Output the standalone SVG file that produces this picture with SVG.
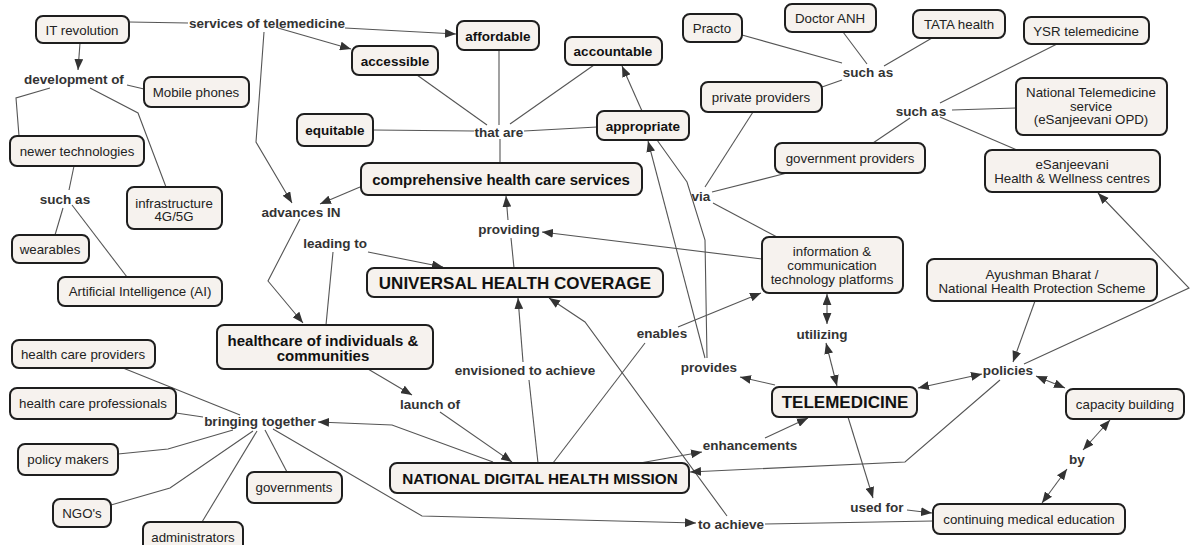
<svg xmlns="http://www.w3.org/2000/svg" width="1191" height="545" viewBox="0 0 1191 545">
<defs>
<marker id="a" viewBox="0 0 10 8" refX="10" refY="4" markerWidth="11" markerHeight="9" markerUnits="userSpaceOnUse" orient="auto-start-reverse"><path d="M0,0L10,4L0,8z" fill="#333"/></marker>
<style>
.box{fill:#f6f2ee;stroke:#1e1e1e;stroke-width:2}
.t{font-family:"Liberation Sans",Arial,sans-serif;font-size:13.3px;fill:#222;text-anchor:middle;dominant-baseline:central}
.b{font-weight:bold;font-size:13.5px;fill:#111}
.big{font-weight:bold;font-size:17px;fill:#111}
.mid{font-weight:bold;font-size:15px;fill:#111}
.l{font-family:"Liberation Sans",Arial,sans-serif;font-size:13.5px;font-weight:bold;fill:#333;text-anchor:middle;dominant-baseline:central}
.c{fill:none;stroke:#555;stroke-width:1.1}
.ar{marker-end:url(#a)}
.ar2{marker-start:url(#a);marker-end:url(#a)}
</style>
</defs>
<g id="connectors">
<path class="c ar" d="M80,43L78,70"/>
<path class="c" d="M129,22L188,23"/>
<path class="c ar" d="M345,28L456,34"/>
<path class="c ar" d="M278,28L351,49"/>
<path class="c ar" d="M264,32L256,142L292,203"/>
<path class="c" d="M50,88L16,98L19,136"/>
<path class="c" d="M127,85L144,89"/>
<path class="c" d="M90,88L138,113L166,187"/>
<path class="c" d="M74,166L69,190"/>
<path class="c" d="M63,208L55,235"/>
<path class="c" d="M72,205L127,277"/>
<path class="c ar" d="M300,219L268,281L303,323"/>
<path class="c ar" d="M360,187L320,204"/>
<path class="c" d="M326,325L333,252"/>
<path class="c ar" d="M368,252L443,267"/>
<path class="c" d="M514,268L511,238"/>
<path class="c ar" d="M508,220L506,196"/>
<path class="c ar" d="M762,259L542,232"/>
<path class="c" d="M500,163L500,139"/>
<path class="c" d="M487,125L417,75"/>
<path class="c" d="M499,125L499,50"/>
<path class="c" d="M510,124L594,65"/>
<path class="c" d="M373,130L474,131"/>
<path class="c" d="M524,131L597,127"/>
<path class="c ar" d="M642,111L622,66"/>
<path class="c ar" d="M705,358L648,141"/>
<path class="c" d="M657,140L687,182L705,240L707,358"/>
<path class="c ar" d="M727,516L585,322L549,298"/>
<path class="c" d="M553,463L645,343"/>
<path class="c ar" d="M678,327L761,293"/>
<path class="c" d="M777,237L713,203"/>
<path class="c" d="M705,187L753,112"/>
<path class="c" d="M712,192L787,173"/>
<path class="c" d="M822,87L842,80"/>
<path class="c" d="M742,35L842,63"/>
<path class="c" d="M843,32L867,64"/>
<path class="c" d="M932,38L884,66"/>
<path class="c" d="M873,143L910,118"/>
<path class="c" d="M940,103L1057,44"/>
<path class="c" d="M952,110L1016,108"/>
<path class="c" d="M940,117L1017,150"/>
<path class="c ar" d="M1024,364L1189,288L1098,193"/>
<path class="c ar" d="M1035,301L1013,362"/>
<path class="c ar2" d="M918,388L982,374"/>
<path class="c ar2" d="M1036,376L1065,388"/>
<path class="c ar2" d="M1110,420L1083,450"/>
<path class="c ar2" d="M1067,469L1042,503"/>
<path class="c ar" d="M907,510L932,513"/>
<path class="c" d="M765,524L933,521"/>
<path class="c ar" d="M848,417L873,498"/>
<path class="c ar" d="M1000,380L905,462L690,472"/>
<path class="c ar" d="M765,438L808,418"/>
<path class="c ar" d="M640,463L702,452"/>
<path class="c ar2" d="M827,294L827,324"/>
<path class="c ar2" d="M826,343L837,386"/>
<path class="c" d="M538,463L529,380"/>
<path class="c ar" d="M523,362L518,298"/>
<path class="c ar" d="M368,369L412,395"/>
<path class="c ar" d="M440,412L512,462"/>
<path class="c ar" d="M493,462L392,425L318,422"/>
<path class="c ar" d="M273,429L422,516L696,523"/>
<path class="c ar" d="M775,385L740,377"/>
<path class="c" d="M123,368L240,415"/>
<path class="c" d="M176,413L203,417"/>
<path class="c" d="M118,454L168,449L233,430"/>
<path class="c" d="M111,505L170,488L253,431"/>
<path class="c" d="M202,522L257,431"/>
<path class="c" d="M287,472L265,430"/>
</g>
<g id="labels">
<text class="l" x="267" y="23">services of telemedicine</text>
<text class="l" x="74" y="79">development of</text>
<text class="l" x="65" y="199">such as</text>
<text class="l" x="499" y="132">that are</text>
<text class="l" x="301" y="212">advances IN</text>
<text class="l" x="335" y="243">leading to</text>
<text class="l" x="509" y="229">providing</text>
<text class="l" x="701" y="196">via</text>
<text class="l" x="868" y="72">such as</text>
<text class="l" x="921" y="111">such as</text>
<text class="l" x="662" y="333">enables</text>
<text class="l" x="822" y="334">utilizing</text>
<text class="l" x="525" y="370">envisioned to achieve</text>
<text class="l" x="709" y="367">provides</text>
<text class="l" x="1008" y="370">policies</text>
<text class="l" x="1077" y="459">by</text>
<text class="l" x="260" y="421">bringing together</text>
<text class="l" x="430" y="404">launch of</text>
<text class="l" x="750" y="445">enhancements</text>
<text class="l" x="877" y="507">used for</text>
<text class="l" x="731" y="524">to achieve</text>
</g>
<g id="n-it"><rect class="box" x="36" y="16" width="93" height="27" rx="7"/><text class="t" x="82" y="30">IT revolution</text></g>
<g id="n-mobile"><rect class="box" x="144" y="77" width="105" height="30" rx="7"/><text class="t" x="196" y="92">Mobile phones</text></g>
<g id="n-newer"><rect class="box" x="10" y="136" width="134" height="30" rx="7"/><text class="t" x="77" y="151">newer technologies</text></g>
<g id="n-infra"><rect class="box" x="127" y="187" width="95" height="42" rx="7"/><text class="t" x="174" y="203">infrastructure</text><text class="t" x="174" y="216">4G/5G</text></g>
<g id="n-wear"><rect class="box" x="12" y="235" width="77" height="28" rx="7"/><text class="t" x="50" y="249">wearables</text></g>
<g id="n-ai"><rect class="box" x="58" y="277" width="164" height="29" rx="7"/><text class="t" x="140" y="291.5">Artificial Intelligence (AI)</text></g>
<g id="n-hcprov"><rect class="box" x="12" y="340" width="143" height="28" rx="7"/><text class="t" x="83" y="354">health care providers</text></g>
<g id="n-hcprof"><rect class="box" x="10" y="388" width="166" height="31" rx="7"/><text class="t" x="93" y="403">health care professionals</text></g>
<g id="n-policy"><rect class="box" x="18" y="444" width="100" height="31" rx="7"/><text class="t" x="68" y="459">policy makers</text></g>
<g id="n-ngo"><rect class="box" x="53" y="499" width="58" height="28" rx="7"/><text class="t" x="82" y="513">NGO's</text></g>
<g id="n-admin"><rect class="box" x="143" y="522" width="100" height="30" rx="7"/><text class="t" x="193" y="537">administrators</text></g>
<g id="n-gov"><rect class="box" x="247" y="472" width="95" height="31" rx="7"/><text class="t" x="294" y="487">governments</text></g>
<g id="n-accessible"><rect class="box" x="352" y="46" width="86" height="29" rx="7"/><text class="t b" x="395" y="61">accessible</text></g>
<g id="n-affordable"><rect class="box" x="457" y="21" width="82" height="29" rx="7"/><text class="t b" x="498" y="36">affordable</text></g>
<g id="n-equitable"><rect class="box" x="297" y="114" width="76" height="32" rx="7"/><text class="t b" x="335" y="130">equitable</text></g>
<g id="n-accountable"><rect class="box" x="565" y="37" width="97" height="28" rx="7"/><text class="t b" x="613" y="51">accountable</text></g>
<g id="n-appropriate"><rect class="box" x="597" y="111" width="92" height="29" rx="7"/><text class="t b" x="643" y="126">appropriate</text></g>
<g id="n-comp"><rect class="box" x="361" y="163" width="281" height="32" rx="7"/><text class="t mid" x="501" y="179">comprehensive health care services</text></g>
<g id="n-practo"><rect class="box" x="683" y="14" width="59" height="28" rx="7"/><text class="t" x="712" y="28">Practo</text></g>
<g id="n-anh"><rect class="box" x="785" y="4" width="91" height="28" rx="7"/><text class="t" x="830" y="18">Doctor ANH</text></g>
<g id="n-tata"><rect class="box" x="913" y="10" width="92" height="28" rx="7"/><text class="t" x="959" y="24">TATA health</text></g>
<g id="n-ysr"><rect class="box" x="1024" y="17" width="125" height="27" rx="7"/><text class="t" x="1086" y="31">YSR telemedicine</text></g>
<g id="n-private"><rect class="box" x="701" y="82" width="121" height="30" rx="7"/><text class="t" x="761" y="97">private providers</text></g>
<g id="n-nts"><rect class="box" x="1016" y="78" width="151" height="57" rx="7"/><text class="t" x="1091" y="92">National Telemedicine</text><text class="t" x="1091" y="106">service</text><text class="t" x="1091" y="119">(eSanjeevani OPD)</text></g>
<g id="n-govprov"><rect class="box" x="775" y="143" width="150" height="30" rx="7"/><text class="t" x="850" y="158">government providers</text></g>
<g id="n-esanj"><rect class="box" x="985" y="150" width="175" height="42" rx="7"/><text class="t" x="1072" y="164">eSanjeevani</text><text class="t" x="1072" y="178">Health &amp; Wellness centres</text></g>
<g id="n-ict"><rect class="box" x="762" y="237" width="141" height="56" rx="7"/><text class="t" x="832" y="251">information &amp;</text><text class="t" x="832" y="265">communication</text><text class="t" x="832" y="279">technology platforms</text></g>
<g id="n-ayush"><rect class="box" x="927" y="259" width="230" height="42" rx="7"/><text class="t" x="1042" y="274">Ayushman Bharat /</text><text class="t" x="1042" y="288">National Health Protection Scheme</text></g>
<g id="n-uhc"><rect class="box" x="367" y="268" width="296" height="29" rx="7"/><text class="t big" x="515" y="283">UNIVERSAL HEALTH COVERAGE</text></g>
<g id="n-hci"><rect class="box" x="217" y="325" width="216" height="44" rx="7"/><text class="t mid" x="323" y="340">healthcare of individuals &amp;</text><text class="t mid" x="323" y="355">communities</text></g>
<g id="n-tele"><rect class="box" x="772" y="387" width="145" height="30" rx="7"/><text class="t big" x="845" y="402">TELEMEDICINE</text></g>
<g id="n-cap"><rect class="box" x="1066" y="389" width="118" height="30" rx="7"/><text class="t" x="1125" y="404">capacity building</text></g>
<g id="n-ndhm"><rect class="box" x="390" y="463" width="299" height="30" rx="7"/><text class="t" style="font-weight:bold;font-size:15.3px;fill:#111" x="540" y="478">NATIONAL DIGITAL HEALTH MISSION</text></g>
<g id="n-cme"><rect class="box" x="933" y="504" width="192" height="30" rx="7"/><text class="t" x="1029" y="519">continuing medical education</text></g>
</svg>
